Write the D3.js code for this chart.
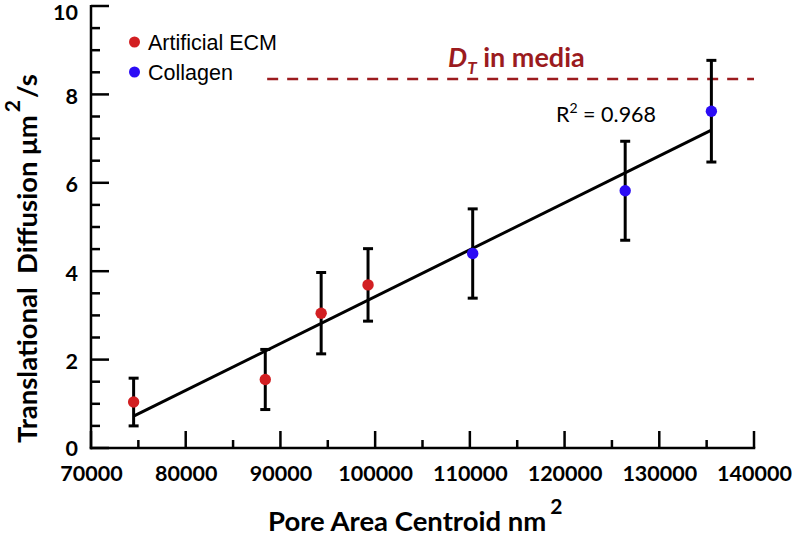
<!DOCTYPE html>
<html>
<head>
<meta charset="utf-8">
<script src="https://cdn.jsdelivr.net/npm/d3@7"></script>
<style>
  html, body { margin: 0; padding: 0; background: #fff; }
  svg { display: block; }
  text { white-space: pre; }
</style>
</head>
<body>
<svg id="chart" width="792" height="536"></svg>
<script>
// ---- data ----
const ecmX   = [74500, 88400, 94300, 99250];
const ecmY   = [1.04, 1.55, 3.05, 3.69];
const ecmErr = [0.54, 0.68, 0.92, 0.82];

const colX   = [110300, 126400, 135500];
const colY   = [4.40, 5.82, 7.62];
const colErr = [1.01, 1.12, 1.15];

const fitX = [74500, 135500];
const fitY = [0.72, 7.19];

const mediaD = 8.35;
const mediaX = [88600, 140000];

const xTicks = [70000, 80000, 90000, 100000, 110000, 120000, 130000, 140000];
const yTicks = [0, 2, 4, 6, 8, 10];

const seriesNames = ["Artificial ECM", "Collagen"];
const seriesColors = ["#d21f22", "#2b0cf5"];

// ---- layout ----
const svg = d3.select("#chart");
const x = d3.scaleLinear().domain([70000, 140000]).range([91, 754]);
const y = d3.scaleLinear().domain([0, 10]).range([448, 6]);

const calibri = "Lato, 'Open Sans', sans-serif";
const arial = "'Liberation Sans', Arial, sans-serif";

// ---- axes ----
const xMinor = d3.range(75000, 140000, 10000);
const yMinor = d3.range(0.5, 10, 1).concat(d3.range(1, 10, 2));

const gx = svg.append("g").attr("transform", `translate(0,${y(0)})`);
gx.call(d3.axisBottom(x).tickValues(xTicks).tickSize(0).tickFormat(d3.format("d")))
  .call(g => g.select(".domain").remove());
gx.selectAll(".tick text")
  .attr("y", 33)
  .attr("dy", 0)
  .attr("font-family", calibri)
  .attr("font-weight", "bold")
  .attr("font-size", 21.5)
  .attr("fill", "#000");
gx.selectAll("line.maj").data(xTicks).enter().append("line")
  .attr("x1", d => x(d)).attr("x2", d => x(d))
  .attr("y1", 0).attr("y2", -17)
  .attr("stroke", "#000").attr("stroke-width", 2.5);
gx.selectAll("line.min").data(xMinor).enter().append("line")
  .attr("x1", d => x(d)).attr("x2", d => x(d))
  .attr("y1", 0).attr("y2", -8)
  .attr("stroke", "#000").attr("stroke-width", 2.5);
gx.append("line")
  .attr("x1", x(70000) - 1.25).attr("x2", x(140000) + 1.25)
  .attr("y1", 0).attr("y2", 0)
  .attr("stroke", "#000").attr("stroke-width", 2.5);

const gy = svg.append("g").attr("transform", `translate(${x(70000)},0)`);
gy.call(d3.axisLeft(y).tickValues(yTicks).tickSize(0).tickFormat(d3.format("d")))
  .call(g => g.select(".domain").remove());
gy.selectAll(".tick text")
  .attr("x", -13)
  .attr("dy", d => d === 10 ? "0.62em" : (d === 0 ? "0.36em" : "0.42em"))
  .attr("font-family", calibri)
  .attr("font-weight", "bold")
  .attr("font-size", 21.5)
  .attr("fill", "#000");
gy.selectAll("line.maj").data(yTicks).enter().append("line")
  .attr("x1", 0).attr("x2", 18)
  .attr("y1", d => y(d)).attr("y2", d => y(d))
  .attr("stroke", "#000").attr("stroke-width", 2.5);
gy.selectAll("line.min").data(yMinor).enter().append("line")
  .attr("x1", 0).attr("x2", 9)
  .attr("y1", d => y(d)).attr("y2", d => y(d))
  .attr("stroke", "#000").attr("stroke-width", 2.5);
gy.append("line")
  .attr("x1", 0).attr("x2", 0)
  .attr("y1", y(10) - 1).attr("y2", y(0) + 1.25)
  .attr("stroke", "#000").attr("stroke-width", 2.5);

// ---- axis titles ----
const xt = svg.append("text")
  .attr("x", 268).attr("y", 531)
  .attr("font-family", calibri).attr("font-weight", "bold")
  .attr("font-size", 27.5).attr("fill", "#000");
xt.append("tspan").text("Pore Area Centroid nm");
xt.append("tspan").attr("dx", 4).attr("dy", -17).attr("font-size", 21).text("2");

const yt = svg.append("text")
  .attr("transform", "translate(37,443) rotate(-90)")
  .attr("font-family", calibri).attr("font-weight", "bold")
  .attr("font-size", 27.5).attr("fill", "#000");
yt.append("tspan").text("Translational  Diffusion \u03bcm");
yt.append("tspan").attr("dx", 3).attr("dy", -17).attr("font-size", 21).text("2");
yt.append("tspan").attr("dx", 2).attr("dy", 17).text("/s");

// ---- media line ----
svg.append("line")
  .attr("x1", x(mediaX[0])).attr("x2", x(mediaX[1]))
  .attr("y1", y(mediaD)).attr("y2", y(mediaD))
  .attr("stroke", "#9b1b1e").attr("stroke-width", 2.5)
  .attr("stroke-dasharray", "11,9");

const dt = svg.append("text")
  .attr("x", 448).attr("y", 67)
  .attr("font-family", calibri).attr("font-weight", "bold")
  .attr("font-size", 27).attr("fill", "#9b1b1e");
dt.append("tspan").attr("font-style", "italic").text("D");
dt.append("tspan").attr("font-style", "italic").attr("font-size", 17).attr("dy", 7).text("T");
dt.append("tspan").attr("dy", -7).text(" in media");

// ---- fit line ----
svg.append("path")
  .datum(fitX.map((d, i) => [d, fitY[i]]))
  .attr("d", d3.line().x(d => x(d[0])).y(d => y(d[1])))
  .attr("stroke", "#000").attr("stroke-width", 3).attr("fill", "none");

const r2 = svg.append("text")
  .attr("x", 556).attr("y", 122)
  .attr("font-family", calibri)
  .attr("font-size", 21.5).attr("fill", "#000");
r2.append("tspan").text("R");
r2.append("tspan").attr("dy", -9).attr("font-size", 14).text("2");
r2.append("tspan").attr("dy", 9).text(" = 0.968");

// ---- points with error bars ----
const series = [
  { xs: ecmX, ys: ecmY, es: ecmErr, color: seriesColors[0] },
  { xs: colX, ys: colY, es: colErr, color: seriesColors[1] }
];
series.forEach(s => {
  const pts = s.xs.map((d, i) => ({ x: d, y: s.ys[i], e: s.es[i] }));
  const g = svg.append("g");
  const eb = g.selectAll("g.eb").data(pts).enter().append("g")
    .attr("stroke", "#000").attr("stroke-width", 3);
  eb.append("line")
    .attr("x1", d => x(d.x)).attr("x2", d => x(d.x))
    .attr("y1", d => y(d.y + d.e)).attr("y2", d => y(d.y - d.e));
  eb.append("line")
    .attr("x1", d => x(d.x) - 5).attr("x2", d => x(d.x) + 5)
    .attr("y1", d => y(d.y + d.e)).attr("y2", d => y(d.y + d.e));
  eb.append("line")
    .attr("x1", d => x(d.x) - 5).attr("x2", d => x(d.x) + 5)
    .attr("y1", d => y(d.y - d.e)).attr("y2", d => y(d.y - d.e));
  g.selectAll("circle").data(pts).enter().append("circle")
    .attr("cx", d => x(d.x)).attr("cy", d => y(d.y))
    .attr("r", 5.7).attr("fill", s.color);
});

// ---- legend ----
const lg = svg.append("g");
seriesNames.forEach((name, i) => {
  lg.append("circle")
    .attr("cx", 134.5).attr("cy", 42 + i * 30)
    .attr("r", 5.5).attr("fill", seriesColors[i]);
  lg.append("text")
    .attr("x", 148).attr("y", 50 + i * 30)
    .attr("font-family", arial).attr("font-size", 21.5)
    .attr("fill", "#000").text(name);
});
</script>
</body>
</html>
